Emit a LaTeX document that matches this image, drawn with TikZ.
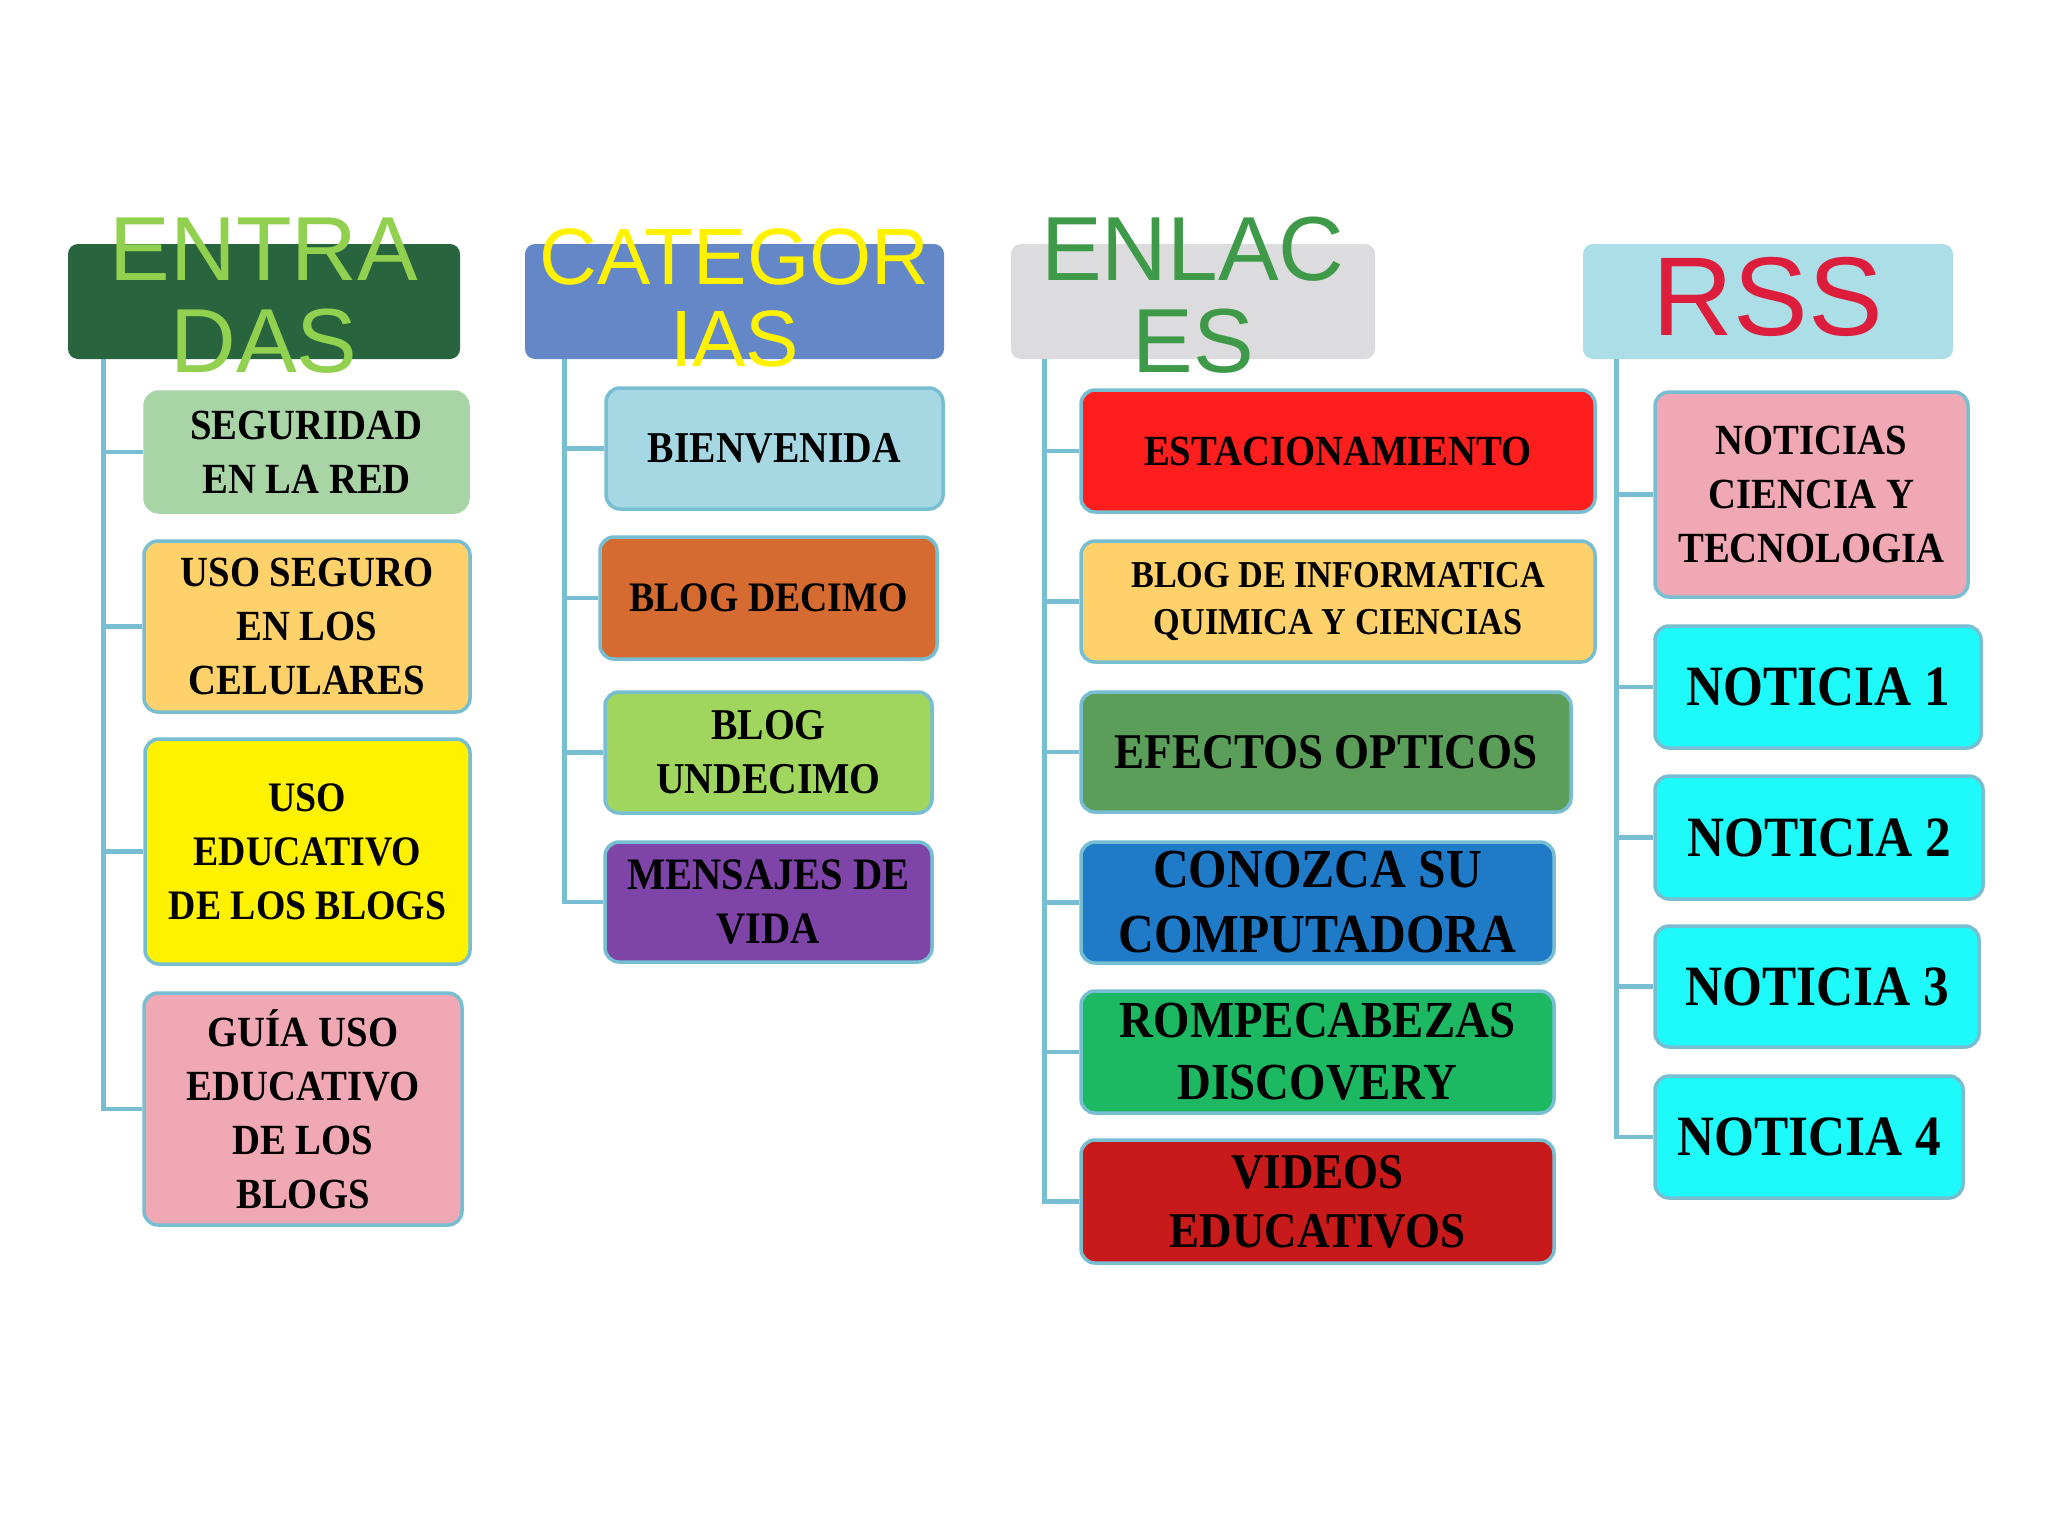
\documentclass[tikz,border=0pt]{standalone}
\usepackage{fontspec}
\usepackage{tikz}
\usetikzlibrary{positioning}

\newfontfamily\cajafont[FakeStretch=0.9]{Liberation Serif}
\newfontfamily\titfont{Liberation Sans}
\newcommand{\tam}[2]{\cajafont\bfseries\fontsize{#1}{#2}\selectfont}
\newcommand{\tit}[2]{\titfont\fontsize{#1}{#2}\selectfont}

\definecolor{borde}{RGB}{120,190,210}
\definecolor{verdeosc}{RGB}{40,100,62}
\definecolor{verdetit}{RGB}{146,208,80}
\definecolor{azultela}{RGB}{100,135,200}
\definecolor{marmol}{RGB}{220,220,222}
\definecolor{verdeenl}{RGB}{62,154,72}
\definecolor{agua}{RGB}{172,222,232}
\definecolor{rojorss}{RGB}{220,30,60}
\definecolor{verdeclaro}{RGB}{168,212,166}
\definecolor{naranjaclaro}{RGB}{254,209,106}
\definecolor{rosa}{RGB}{240,168,180}
\definecolor{celeste}{RGB}{166,216,228}
\definecolor{naranja}{RGB}{213,107,48}
\definecolor{limon}{RGB}{160,214,94}
\definecolor{morado}{RGB}{127,68,168}
\definecolor{rojo}{RGB}{255,30,30}
\definecolor{verdeop}{RGB}{90,158,90}
\definecolor{azul}{RGB}{31,122,200}
\definecolor{verdepuz}{RGB}{29,184,98}
\definecolor{rojooscuro}{RGB}{200,26,26}
\definecolor{cian}{RGB}{30,250,250}

\begin{document}
\begin{tikzpicture}[x=0.5pt,y=-0.5pt,
  caja/.style={draw=borde,line width=1.75pt,rounded corners=7pt,align=center,inner sep=2pt},
  cabecera/.style={rounded corners=5pt,inner sep=0pt},
  titulo/.style={align=center,inner sep=0pt},
  rama/.style={draw=borde,line width=2.25pt}]
\useasboundingbox[fill=white] (0,0) rectangle (2048,1536);

% cabeceras
\node[cabecera,fill=verdeosc,minimum width=196pt,minimum height=57.5pt] (h1) at (264,301.5) {};
\node[cabecera,fill=azultela,minimum width=209.5pt,minimum height=57.5pt] (h2) at (734.5,301.5) {};
\node[cabecera,fill=marmol,minimum width=182pt,minimum height=57.5pt] (h3) at (1193,301.5) {};
\node[cabecera,fill=agua,minimum width=185pt,minimum height=57.5pt] (h4) at (1768,301.5) {};
\node[titulo,font=\tit{45.5}{46},text=verdetit] (t1) at ([yshift=3pt]h1.center) {ENTRA\\DAS};
\node[titulo,font=\tit{40}{41},text=yellow] (t2) at ([yshift=2pt]h2.center) {CATEGOR\\IAS};
\node[titulo,font=\tit{45.5}{46},text=verdeenl] (t3) at ([yshift=3pt]h3.center) {ENLAC\\ES};
\node[titulo,font=\tit{56}{56},text=rojorss] (t4) at ([yshift=2.25pt]h4.center) {RSS};

% entradas
\node[caja,draw=verdeclaro,fill=verdeclaro,minimum width=161.5pt,minimum height=60pt,font=\tam{21.5}{27}] (b11) at (306.5,452) {SEGURIDAD\\EN LA RED};
\node[caja,fill=naranjaclaro,minimum width=163pt,minimum height=85.5pt,font=\tam{21.5}{27}] (b12) at (307,626.5) {USO SEGURO\\EN LOS\\CELULARES};
\node[caja,fill=yellow,minimum width=162.5pt,minimum height=112.5pt,font=\tam{21}{27}] (b13) at (307.5,851.5) {USO\\EDUCATIVO\\DE LOS BLOGS};
\node[caja,fill=rosa,minimum width=159pt,minimum height=116pt,font=\tam{21.5}{27}] (b14) at (303,1109) {GUÍA USO\\EDUCATIVO\\DE LOS\\BLOGS};

% categorias
\node[caja,fill=celeste,minimum width=168.5pt,minimum height=60.5pt,font=\tam{22}{27}] (b21) at (774.5,448.5) {BIENVENIDA};
\node[caja,fill=naranja,minimum width=168.5pt,minimum height=61pt,font=\tam{21}{27}] (b22) at (768.5,598) {BLOG DECIMO};
\node[caja,fill=limon,minimum width=163.5pt,minimum height=60.5pt,font=\tam{22}{27}] (b23) at (768.5,752.5) {BLOG\\UNDECIMO};
\node[caja,fill=morado,minimum width=163.5pt,minimum height=60pt,font=\tam{22.5}{27}] (b24) at (768.5,902) {MENSAJES DE\\VIDA};

% enlaces
\node[caja,fill=rojo,minimum width=257pt,minimum height=61pt,font=\tam{21.5}{27}] (b31) at (1338,451) {ESTACIONAMIENTO};
\node[caja,fill=naranjaclaro,minimum width=257pt,minimum height=60.5pt,font=\tam{19}{23.5}] (b32) at (1338,601.5) {BLOG DE INFORMATICA\\QUIMICA Y CIENCIAS};
\node[caja,fill=verdeop,minimum width=245pt,minimum height=60pt,font=\tam{25}{30}] (b33) at (1326,752) {EFECTOS OPTICOS};
\node[caja,fill=azul,minimum width=236.5pt,minimum height=60.5pt,font=\tam{27.5}{32.5}] (b34) at (1317.5,902.5) {CONOZCA SU\\COMPUTADORA};
\node[caja,fill=verdepuz,minimum width=236.5pt,minimum height=61pt,font=\tam{26}{31}] (b35) at (1317.5,1052) {ROMPECABEZAS\\DISCOVERY};
\node[caja,fill=rojooscuro,minimum width=236.5pt,minimum height=61.5pt,font=\tam{25}{29.5}] (b36) at (1317.5,1201.5) {VIDEOS\\EDUCATIVOS};

% rss
\node[caja,fill=rosa,minimum width=156.5pt,minimum height=102.5pt,font=\tam{21.5}{27}] (b41) at (1811.5,494.5) {NOTICIAS\\CIENCIA Y\\TECNOLOGIA};
\node[caja,fill=cian,minimum width=163pt,minimum height=61pt,font=\tam{28.5}{30}] (b42) at (1818,687) {NOTICIA 1};
\node[caja,fill=cian,minimum width=164pt,minimum height=61.5pt,font=\tam{28.5}{30}] (b43) at (1819,837.5) {NOTICIA 2};
\node[caja,fill=cian,minimum width=162pt,minimum height=60.5pt,font=\tam{28.5}{30}] (b44) at (1817,986.5) {NOTICIA 3};
\node[caja,fill=cian,minimum width=154pt,minimum height=61pt,font=\tam{28.5}{30}] (b45) at (1809,1137) {NOTICIA 4};

% ramas
\coordinate (r1) at ([xshift=18pt]h1.south west);
\coordinate (r2) at ([xshift=20pt]h2.south west);
\coordinate (r3) at ([xshift=17pt]h3.south west);
\coordinate (r4) at ([xshift=17pt]h4.south west);
\draw[rama] (r1) |- (b14.west);
\foreach \b in {b11,b12,b13} \draw[rama] (r1 |- \b.west) -- (\b.west);
\draw[rama] (r2) |- (b24.west);
\foreach \b in {b21,b22,b23} \draw[rama] (r2 |- \b.west) -- (\b.west);
\draw[rama] (r3) |- (b36.west);
\foreach \b in {b31,b32,b33,b34,b35} \draw[rama] (r3 |- \b.west) -- (\b.west);
\draw[rama] (r4) |- (b45.west);
\foreach \b in {b41,b42,b43,b44} \draw[rama] (r4 |- \b.west) -- (\b.west);
\end{tikzpicture}
\end{document}
